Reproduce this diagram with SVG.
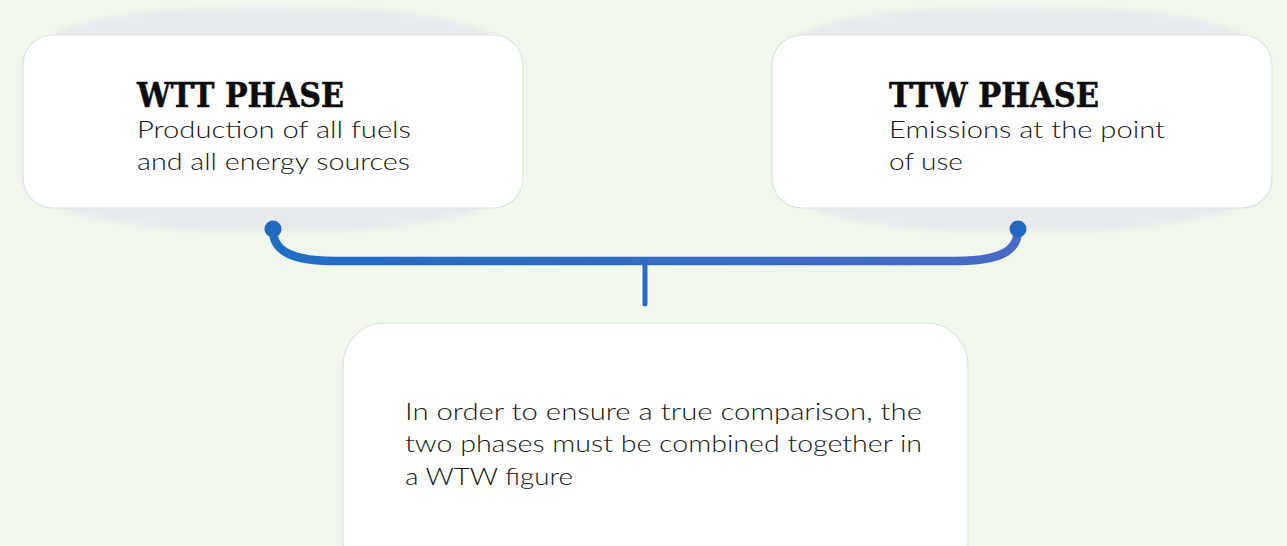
<svg xmlns="http://www.w3.org/2000/svg" width="1287" height="546" viewBox="0 0 1287 546">
  <defs>
    <linearGradient id="barGrad" x1="0" y1="0" x2="1" y2="0">
      <stop offset="0" stop-color="#1f6ec6"/>
      <stop offset="1" stop-color="#4868c6"/>
    </linearGradient>
    <filter id="soft" x="-10%" y="-10%" width="120%" height="120%">
      <feGaussianBlur stdDeviation="2.5"/>
    </filter>
    <style>
      .lens { fill: #e7eaec; filter: url(#soft); }
      .card { fill: #ffffff; stroke: #dfe2e1; stroke-width: 1.2; }
      .head { font-family: "DejaVu Serif", "Liberation Serif", serif; font-weight: bold; font-size: 34px; fill: #0d0d0d; stroke: #0d0d0d; stroke-width: 0.6; }
      .body { font-family: Lato, "Open Sans", "Liberation Sans", sans-serif; font-weight: 300; font-size: 23px; fill: #161616; }
      .wire { fill: none; stroke: url(#barGrad); stroke-width: 8.5; stroke-linecap: round; }
      .stem { stroke: #2a6cc4; stroke-width: 5; stroke-linecap: round; }
      .knob { fill: #2268c0; }
    </style>
  </defs>

  <rect width="1287" height="546" fill="#f0f7ec"/>

  <!-- left card: WTT phase -->
  <g id="wtt">
    <path class="lens" d="M 40 40 C 90 12 170 8 272 8 C 374 8 454 12 504 40 L 504 200 C 454 224 374 232 272 232 C 170 232 90 224 40 200 Z"/>
    <rect class="card" x="23" y="35" width="500" height="173" rx="30"/>
    <text class="head" x="137" y="107" textLength="207" lengthAdjust="spacingAndGlyphs">WTT PHASE</text>
    <text class="body" x="137" y="138" textLength="274" lengthAdjust="spacingAndGlyphs">Production of all fuels</text>
    <text class="body" x="137" y="170" textLength="273" lengthAdjust="spacingAndGlyphs">and all energy sources</text>
  </g>

  <!-- right card: TTW phase -->
  <g id="ttw">
    <path class="lens" d="M 788 40 C 838 12 918 8 1021 8 C 1124 8 1204 12 1256 40 L 1256 200 C 1204 224 1124 232 1021 232 C 918 232 838 224 788 200 Z"/>
    <rect class="card" x="772" y="35" width="500" height="173" rx="30"/>
    <text class="head" x="889" y="107" textLength="210" lengthAdjust="spacingAndGlyphs">TTW PHASE</text>
    <text class="body" x="889" y="138" textLength="276" lengthAdjust="spacingAndGlyphs">Emissions at the point</text>
    <text class="body" x="889" y="170" textLength="74" lengthAdjust="spacingAndGlyphs">of use</text>
  </g>

  <!-- bottom card: combined WTW -->
  <g id="wtw">
    <rect class="card" x="343" y="323" width="625" height="260" rx="42"/>
    <text class="body" x="405" y="420" textLength="517" lengthAdjust="spacingAndGlyphs">In order to ensure a true comparison, the</text>
    <text class="body" x="405" y="452" textLength="517" lengthAdjust="spacingAndGlyphs">two phases must be combined together in</text>
    <text class="body" x="405" y="485" textLength="168" lengthAdjust="spacingAndGlyphs">a WTW figure</text>
  </g>

  <!-- bracket joining both phases into the combined figure -->
  <g id="connectors">
    <path class="wire" d="M 273 230 C 273 251 292 261 335 261 L 955 261 C 1000 261 1018 251 1018 230"/>
    <line class="stem" x1="645" y1="263" x2="645" y2="304"/>
    <circle class="knob" cx="273" cy="229" r="8.5"/>
    <circle class="knob" cx="1018" cy="229" r="8.5" fill="#3f68c4"/>
  </g>
</svg>
